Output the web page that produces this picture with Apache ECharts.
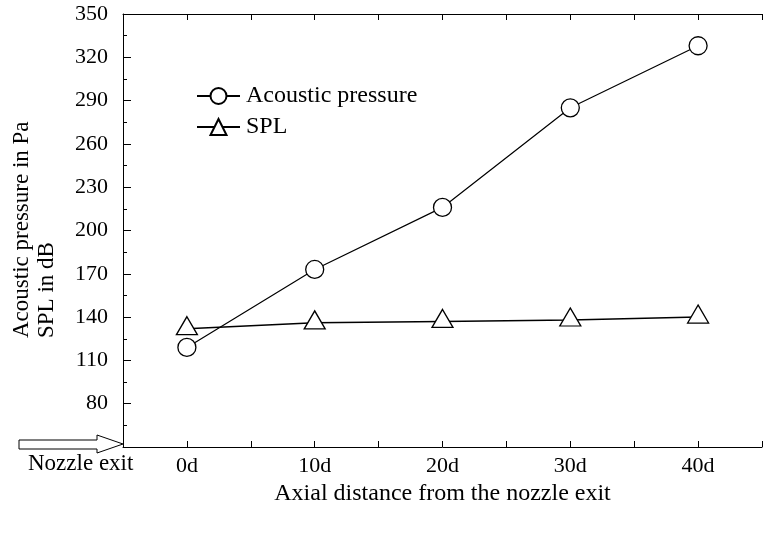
<!DOCTYPE html>
<html>
<head>
<meta charset="utf-8">
<script src="https://cdn.jsdelivr.net/npm/echarts@6/dist/echarts.min.js"></script>
<style>
  html, body { margin: 0; padding: 0; background: #fff; }
  #chart { width: 765px; height: 533px; }
</style>
</head>
<body>
<div id="chart"></div>
<script>
// axial positions in nozzle diameters
const positions = [0, 10, 20, 30, 40]
const pressure = [119, 173, 216, 285, 328]
const spl = [132, 136, 137, 138, 140]

const FONT = 'Liberation Serif'

const chart = echarts.init(document.getElementById('chart'))

const xCommon = {
  type: 'value',
  min: -5,
  max: 45,
  interval: 5,
  splitLine: { show: false },
  axisLine: { onZero: false, lineStyle: { color: '#000', width: 1 } },
  axisTick: { inside: true, length: 6, lineStyle: { color: '#000' } }
}

const option = {
  animation: false,
  backgroundColor: '#fff',
  textStyle: { fontFamily: FONT, color: '#000' },
  grid: { left: 123, top: 14, bottom: 86, right: -10 },
  legend: {
    orient: 'vertical',
    left: 196,
    top: 84,
    padding: 0,
    itemWidth: 43,
    itemHeight: 20,
    itemGap: 7,
    textStyle: { fontFamily: FONT, fontSize: 24, color: '#000', padding: [0, 0, 0, 1] },
    data: ['Acoustic pressure', 'SPL']
  },
  xAxis: [
    {
      ...xCommon,
      position: 'bottom',
      name: 'Axial distance from the nozzle exit',
      nameLocation: 'middle',
      nameGap: 35,
      nameTextStyle: { fontFamily: FONT, fontSize: 24, color: '#000' },
      axisLabel: {
        margin: 8,
        fontFamily: FONT,
        fontSize: 22,
        color: '#000',
        formatter: v => (v >= 0 && v % 10 === 0 ? v + 'd' : '')
      }
    },
    {
      ...xCommon,
      position: 'top',
      axisLabel: { show: false }
    }
  ],
  yAxis: {
    type: 'value',
    min: 50,
    max: 350,
    interval: 30,
    splitLine: { show: false },
    axisLine: { show: true, onZero: false, lineStyle: { color: '#000', width: 1 } },
    axisTick: { show: true, inside: true, length: 8, lineStyle: { color: '#000' } },
    minorTick: { show: true, splitNumber: 2, length: 4, lineStyle: { color: '#000' } },
    axisLabel: {
      margin: 15,
      fontFamily: FONT,
      fontSize: 22,
      color: '#000',
      formatter: v => (v === 50 ? '' : String(v))
    }
  },
  series: [
    {
      name: 'Acoustic pressure',
      type: 'line',
      data: positions.map((p, i) => [p, pressure[i]]),
      symbol: 'circle',
      symbolSize: 18,
      itemStyle: { color: '#fff', borderColor: '#000', borderWidth: 1.3 },
      lineStyle: { color: '#000', width: 1.2 },
      z: 3
    },
    {
      name: 'SPL',
      type: 'line',
      data: positions.map((p, i) => [p, spl[i]]),
      symbol: 'triangle',
      symbolSize: [21, 18],
      symbolOffset: [0, -3],
      itemStyle: { color: '#fff', borderColor: '#000', borderWidth: 1.3 },
      lineStyle: { color: '#000', width: 1.5 },
      z: 2
    }
  ],
  graphic: [
    {
      type: 'text',
      x: 22,
      y: 338,
      rotation: Math.PI / 2,
      style: { text: 'Acoustic pressure in Pa', font: '23px "Liberation Serif"', fill: '#000', align: 'left', verticalAlign: 'middle' }
    },
    {
      type: 'text',
      x: 47,
      y: 338,
      rotation: Math.PI / 2,
      style: { text: 'SPL in dB', font: '23px "Liberation Serif"', fill: '#000', align: 'left', verticalAlign: 'middle' }
    },
    {
      type: 'polygon',
      shape: { points: [[19, 440], [97, 440], [97, 435], [123, 444], [97, 453], [97, 449], [19, 449]] },
      style: { fill: '#fff', stroke: '#000', lineWidth: 1 }
    },
    {
      type: 'text',
      left: 28,
      top: 452,
      style: { text: 'Nozzle exit', font: '23px "Liberation Serif"', fill: '#000' }
    }
  ]
}

chart.setOption(option)
</script>
</body>
</html>
